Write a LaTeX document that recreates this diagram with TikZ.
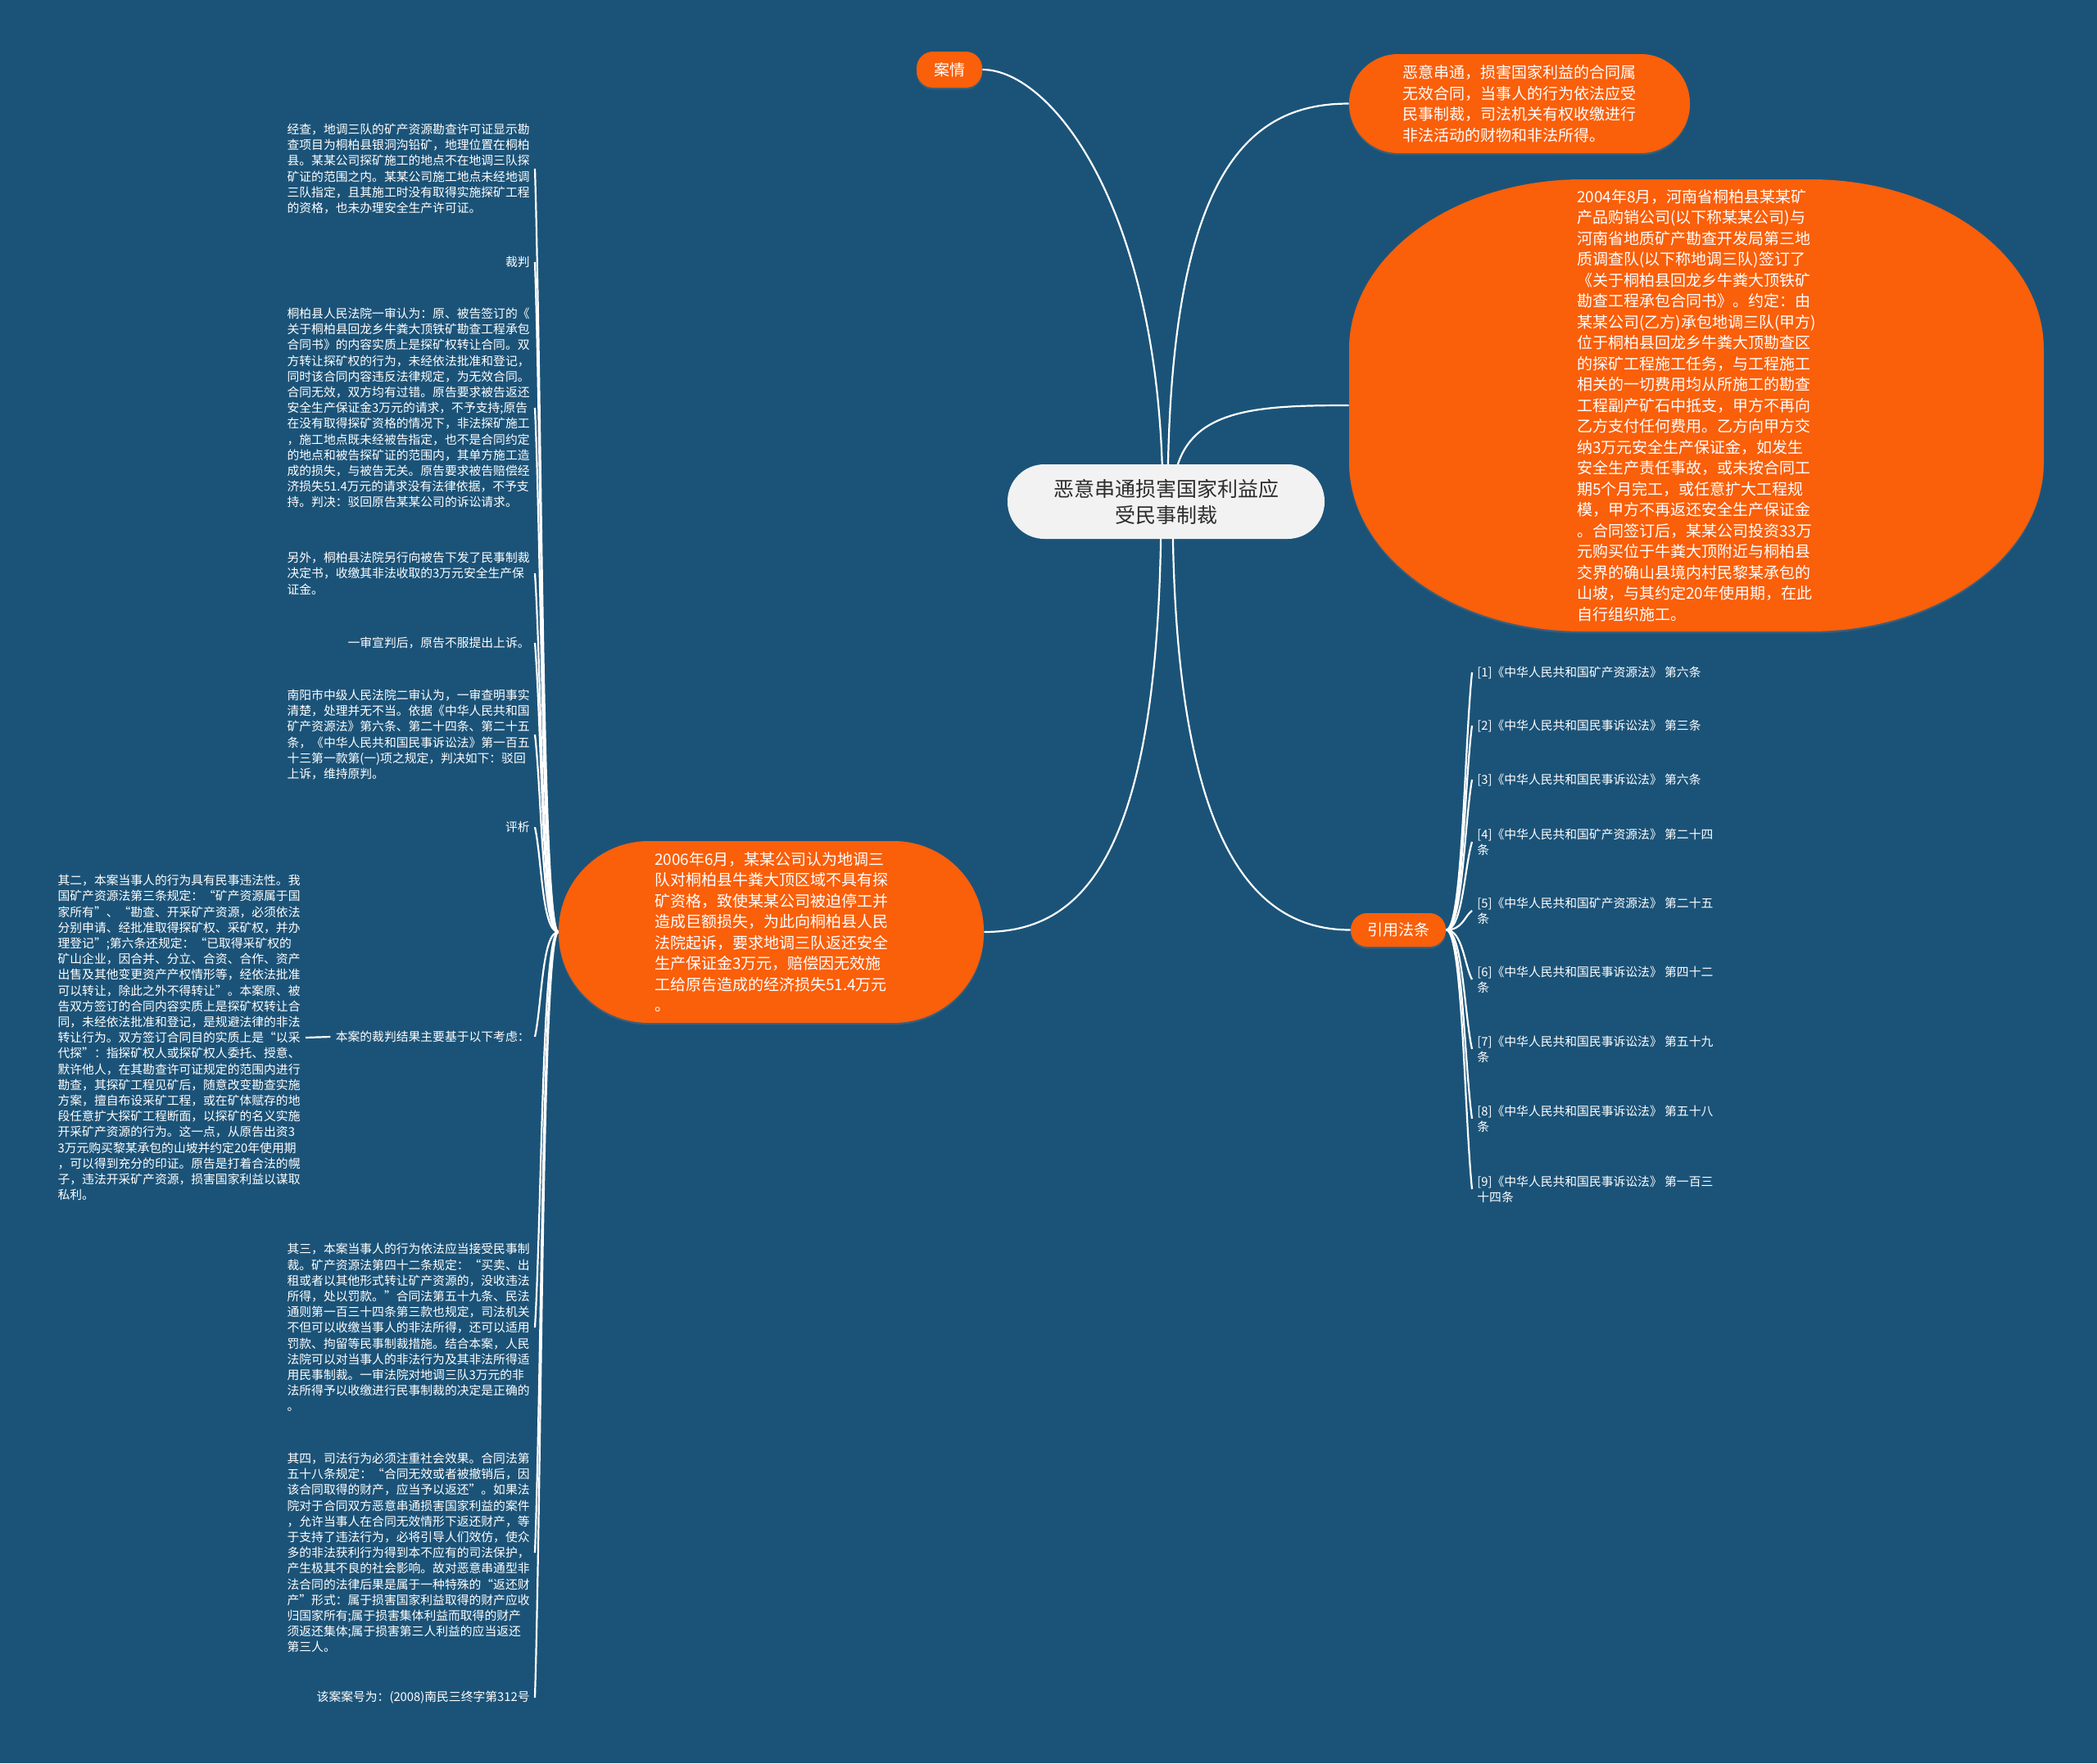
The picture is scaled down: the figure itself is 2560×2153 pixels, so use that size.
\documentclass[tikz,border=0pt]{standalone}
\usepackage{fontspec}
\setmainfont{Noto Sans CJK SC}
\usetikzlibrary{calc,shadows}
\definecolor{bgblue}{RGB}{27,83,120}
\definecolor{org}{RGB}{250,95,10}
\definecolor{rootfill}{RGB}{242,242,242}
\definecolor{roottext}{RGB}{45,45,45}
\newcommand{\txtS}{\fontsize{7.4pt}{9.6pt}\selectfont}
\newcommand{\txtM}{\fontsize{9.5pt}{12.75pt}\selectfont}
\newcommand{\txtL}{\fontsize{12.5pt}{16pt}\selectfont}
\pgfdeclarelayer{bglayer}
\pgfdeclarelayer{edgelayer}
\pgfsetlayers{bglayer,edgelayer,main}
\begin{document}
\begin{tikzpicture}[x=0.5pt,y=-0.5pt,
  conn/.style={draw=white,line width=1.1pt},
  oshadow/.style={drop shadow={shadow xshift=0pt,shadow yshift=-1.2pt,opacity=0.3}},
  onode/.style={fill=org,text=white,inner sep=0pt,font=\txtM,align=left,oshadow},
  ltext/.style={text=white,font=\txtS,inner xsep=3pt,inner ysep=1pt,align=left},
  lblock/.style={ltext,text width=148pt},
]
\begin{pgfonlayer}{bglayer}
\fill[bgblue] (0,0) rectangle (2560,2153);
\end{pgfonlayer}
\useasboundingbox (0,0) rectangle (2560,2153);

% root
\node[fill=rootfill,text=roottext,font=\txtL,align=center,minimum width=193.5pt,minimum height=45.5pt,rounded corners=22.5pt,inner sep=0pt] (root) at (1423.5,612.5) {恶意串通损害国家利益应\\受民事制裁};

% top-left small node
\node[onode,align=center,minimum width=40pt,minimum height=22pt,rounded corners=10pt] (anqing) at (1159,85) {案情};

% top-right node
\node[onode,minimum width=208pt,minimum height=60.5pt,rounded corners=30pt] (emi) at (1855,126.5) {恶意串通，损害国家利益的合同属\\无效合同，当事人的行为依法应受\\民事制裁，司法机关有权收缴进行\\非法活动的财物和非法所得。};

% big right node
\fill[org,oshadow] (1932,219) -- (2210,219) .. controls (2367,219) and (2495,312) .. (2495,426) -- (2495,564) .. controls (2495,678) and (2367,771) .. (2210,771) -- (1932,771) .. controls (1775,771) and (1647,678) .. (1647,564) -- (1647,426) .. controls (1647,312) and (1775,219) .. (1932,219) -- cycle;
\node[text=white,font=\txtM,align=left,inner sep=0pt,minimum width=424pt,minimum height=276pt] (case) at (2071,495) {2004年8月，河南省桐柏县某某矿\\产品购销公司(以下称某某公司)与\\河南省地质矿产勘查开发局第三地\\质调查队(以下称地调三队)签订了\\《关于桐柏县回龙乡牛粪大顶铁矿\\勘查工程承包合同书》。约定：由\\某某公司(乙方)承包地调三队(甲方)\\位于桐柏县回龙乡牛粪大顶勘查区\\的探矿工程施工任务，与工程施工\\相关的一切费用均从所施工的勘查\\工程副产矿石中抵支，甲方不再向\\乙方支付任何费用。乙方向甲方交\\纳3万元安全生产保证金，如发生\\安全生产责任事故，或未按合同工\\期5个月完工，或任意扩大工程规\\模，甲方不再返还安全生产保证金\\。合同签订后，某某公司投资33万\\元购买位于牛粪大顶附近与桐柏县\\交界的确山县境内村民黎某承包的\\山坡，与其约定20年使用期，在此\\自行组织施工。};

% left big node
\node[onode,minimum width=259.5pt,minimum height=111pt,rounded corners=55pt] (suit) at (941.5,1138) {2006年6月，某某公司认为地调三\\队对桐柏县牛粪大顶区域不具有探\\矿资格，致使某某公司被迫停工并\\造成巨额损失，为此向桐柏县人民\\法院起诉，要求地调三队返还安全\\生产保证金3万元，赔偿因无效施\\工给原告造成的经济损失51.4万元\\。};

% law node
\node[onode,align=center,minimum width=58pt,minimum height=20.5pt,rounded corners=10pt] (law) at (1707,1135.5) {引用法条};

% left column
\node[lblock,anchor=east] (jingcha) at (653,206) {经查，地调三队的矿产资源勘查许可证显示勘\\查项目为桐柏县银洞沟铅矿，地理位置在桐柏\\县。某某公司探矿施工的地点不在地调三队探\\矿证的范围之内。某某公司施工地点未经地调\\三队指定，且其施工时没有取得实施探矿工程\\的资格，也未办理安全生产许可证。};
\node[ltext,anchor=east] (caipan) at (653,320) {裁判};
\node[lblock,anchor=east] (tongbai) at (653,498) {桐柏县人民法院一审认为：原、被告签订的《\\关于桐柏县回龙乡牛粪大顶铁矿勘查工程承包\\合同书》的内容实质上是探矿权转让合同。双\\方转让探矿权的行为，未经依法批准和登记，\\同时该合同内容违反法律规定，为无效合同。\\合同无效，双方均有过错。原告要求被告返还\\安全生产保证金3万元的请求，不予支持;原告\\在没有取得探矿资格的情况下，非法探矿施工\\，施工地点既未经被告指定，也不是合同约定\\的地点和被告探矿证的范围内，其单方施工造\\成的损失，与被告无关。原告要求被告赔偿经\\济损失51.4万元的请求没有法律依据，不予支\\持。判决：驳回原告某某公司的诉讼请求。};
\node[lblock,anchor=east] (lingwai) at (653,700) {另外，桐柏县法院另行向被告下发了民事制裁\\决定书，收缴其非法收取的3万元安全生产保\\证金。};
\node[ltext,anchor=east] (yishen) at (653,785) {一审宣判后，原告不服提出上诉。};
\node[lblock,anchor=east] (nanyang) at (653,897) {南阳市中级人民法院二审认为，一审查明事实\\清楚，处理并无不当。依据《中华人民共和国\\矿产资源法》第六条、第二十四条、第二十五\\条，《中华人民共和国民事诉讼法》第一百五\\十三第一款第(一)项之规定，判决如下：驳回\\上诉，维持原判。};
\node[ltext,anchor=east] (pingxi) at (653,1010) {评析};
\node[ltext,anchor=east] (benan) at (653,1266) {本案的裁判结果主要基于以下考虑：};
\node[lblock,anchor=east] (qier) at (373,1267) {其二，本案当事人的行为具有民事违法性。我\\国矿产资源法第三条规定：“矿产资源属于国\\家所有”、“勘查、开采矿产资源，必须依法\\分别申请、经批准取得探矿权、采矿权，并办\\理登记”;第六条还规定：“已取得采矿权的\\矿山企业，因合并、分立、合资、合作、资产\\出售及其他变更资产产权情形等，经依法批准\\可以转让，除此之外不得转让”。本案原、被\\告双方签订的合同内容实质上是探矿权转让合\\同，未经依法批准和登记，是规避法律的非法\\转让行为。双方签订合同目的实质上是“以采\\代探”：指探矿权人或探矿权人委托、授意、\\默许他人，在其勘查许可证规定的范围内进行\\勘查，其探矿工程见矿后，随意改变勘查实施\\方案，擅自布设采矿工程，或在矿体赋存的地\\段任意扩大探矿工程断面，以探矿的名义实施\\开采矿产资源的行为。这一点，从原告出资3\\3万元购买黎某承包的山坡并约定20年使用期\\，可以得到充分的印证。原告是打着合法的幌\\子，违法开采矿产资源，损害国家利益以谋取\\私利。};
\node[lblock,anchor=east] (qisan) at (653,1621) {其三，本案当事人的行为依法应当接受民事制\\裁。矿产资源法第四十二条规定：“买卖、出\\租或者以其他形式转让矿产资源的，没收违法\\所得，处以罚款。”合同法第五十九条、民法\\通则第一百三十四条第三款也规定，司法机关\\不但可以收缴当事人的非法所得，还可以适用\\罚款、拘留等民事制裁措施。结合本案，人民\\法院可以对当事人的非法行为及其非法所得适\\用民事制裁。一审法院对地调三队3万元的非\\法所得予以收缴进行民事制裁的决定是正确的\\。};
\node[lblock,anchor=east] (qisi) at (653,1896) {其四，司法行为必须注重社会效果。合同法第\\五十八条规定：“合同无效或者被撤销后，因\\该合同取得的财产，应当予以返还”。如果法\\院对于合同双方恶意串通损害国家利益的案件\\，允许当事人在合同无效情形下返还财产，等\\于支持了违法行为，必将引导人们效仿，使众\\多的非法获利行为得到本不应有的司法保护，\\产生极其不良的社会影响。故对恶意串通型非\\法合同的法律后果是属于一种特殊的“返还财\\产”形式：属于损害国家利益取得的财产应收\\归国家所有;属于损害集体利益而取得的财产\\须返还集体;属于损害第三人利益的应当返还\\第三人。};
\node[ltext,anchor=east] (anhao) at (653,2073) {该案案号为：(2008)南民三终字第312号};

% right list
\node[ltext,anchor=west] (r1) at (1797,821) {[1]《中华人民共和国矿产资源法》 第六条};
\node[ltext,anchor=west] (r2) at (1797,886) {[2]《中华人民共和国民事诉讼法》 第三条};
\node[ltext,anchor=west] (r3) at (1797,952) {[3]《中华人民共和国民事诉讼法》 第六条};
\node[ltext,anchor=west] (r4) at (1797,1028) {[4]《中华人民共和国矿产资源法》 第二十四\\条};
\node[ltext,anchor=west] (r5) at (1797,1112) {[5]《中华人民共和国矿产资源法》 第二十五\\条};
\node[ltext,anchor=west] (r6) at (1797,1196) {[6]《中华人民共和国民事诉讼法》 第四十二\\条};
\node[ltext,anchor=west] (r7) at (1797,1281) {[7]《中华人民共和国民事诉讼法》 第五十九\\条};
\node[ltext,anchor=west] (r8) at (1797,1366) {[8]《中华人民共和国民事诉讼法》 第五十八\\条};
\node[ltext,anchor=west] (r9) at (1797,1452) {[9]《中华人民共和国民事诉讼法》 第一百三\\十四条};

% connectors
\begin{pgfonlayer}{edgelayer}
\draw[conn] ([xshift=-2pt]root.center) .. controls (1419.5,260) and (1285,85) .. (anqing.east);
\draw[conn] ([xshift=1pt]root.center) .. controls (1425.5,200) and (1530,126.5) .. (emi.west);
\draw[conn] ([xshift=4pt]root.center) .. controls (1431.5,500) and (1520,495) .. (case.west);
\draw[conn] ([xshift=-3pt]root.center) .. controls (1417.5,1050) and (1320,1138) .. (suit.east);
\draw[conn] ([xshift=4pt]root.center) .. controls (1431.5,1050) and (1540,1135.5) .. (law.west);
\foreach \c in {jingcha,caipan,tongbai,lingwai,yishen,nanyang,pingxi,benan,qisan,qisi,anhao}
  \draw[conn] (suit.west) .. controls +(-20,0) and ($(\c.east)!0.3!(suit.west)$) .. (\c.east);
\draw[conn] (benan.west) -- (qier.east);
\foreach \i in {1,...,9}
  \draw[conn] (law.east) .. controls +(20,0) and ($(r\i.west)!0.3!(law.east)$) .. (r\i.west);
\end{pgfonlayer}
\end{tikzpicture}
\end{document}
